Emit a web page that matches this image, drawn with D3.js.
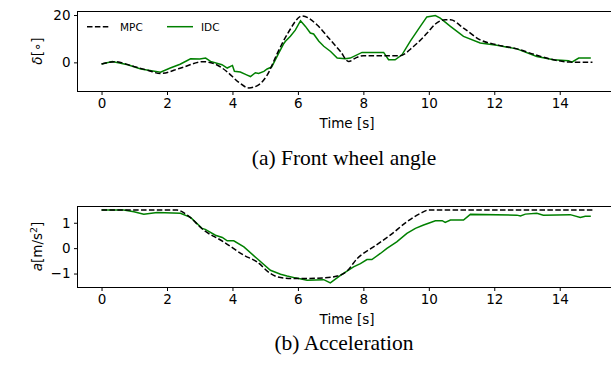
<!DOCTYPE html>
<meta charset="utf-8">
<title>MPC vs IDC</title>
<style>
body { margin:0; background:#fff; }
.tick text { font-family:"DejaVu Sans", sans-serif; font-size:13.5px; fill:#000; }
.tick line { stroke:#000; stroke-width:1; }
.lbl { font-family:"DejaVu Sans", sans-serif; font-size:13.5px; }
.cap { font-family:"Liberation Serif", "Times New Roman", serif; font-size:21.5px; }
.leg { font-family:"DejaVu Sans", sans-serif; font-size:10.5px; }
</style>
<body>
<div id="chart"></div>
<script src="https://cdnjs.cloudflare.com/ajax/libs/d3/7.8.5/d3.min.js"></script>
<script>
// front wheel angle [deg]
var deltaMpcT = [0, 0.4, 1.0, 1.4, 1.8, 2.4, 3.1, 3.53, 3.84, 4.2, 4.5, 4.8, 5.06, 5.37, 5.7, 6.13, 6.58, 6.94, 7.3, 7.55, 7.8, 8.0, 9.1, 9.54, 9.95, 10.2, 10.5, 10.66, 11.06, 11.57, 12.08, 12.69, 13.3, 13.81, 14.32, 15.0];
var deltaMpc  = [-0.7, 0.3, -1.8, -3.3, -4.7, -2.5, 0.3, -1.1, -4.0, -8.5, -10.8, -9.5, -5.4, 3.8, 12.5, 19.6, 15.9, 10.3, 4.6, 0.4, 2.1, 2.8, 2.8, 6.8, 12.4, 16.2, 18.0, 18.0, 14.5, 9.5, 7.4, 5.7, 3.0, 1.1, 0.1, 0];
var deltaIdcT = [0, 0.33, 0.8, 1.2, 1.8, 2.1, 2.4, 2.72, 3.0, 3.18, 3.33, 3.68, 3.84, 4.0, 4.06, 4.24, 4.45, 4.55, 4.7, 4.8, 4.96, 5.06, 5.2, 5.41, 5.57, 5.62, 5.77, 5.92, 6.08, 6.23, 6.38, 6.48, 6.64, 6.79, 7.0, 7.2, 7.45, 7.6, 7.96, 8.62, 8.77, 8.97, 9.18, 9.43, 9.74, 9.94, 10.2, 10.35, 10.66, 11.06, 11.57, 12.08, 12.69, 13.3, 13.81, 14.27, 14.37, 14.58, 14.95];
var deltaIdc  = [-0.7, 0.4, -1.0, -2.8, -4.2, -2.4, -0.8, 1.5, 1.4, 1.8, 0.4, -1.0, -2.4, -1.3, -3.8, -4.1, -5.4, -6.0, -4.4, -4.7, -3.8, -2.8, -1.9, 3.8, 8.0, 8.9, 11.0, 13.6, 17.6, 15.2, 12.4, 12.0, 8.9, 6.8, 4.6, 1.8, 1.5, 1.8, 4.2, 4.2, 1.1, 1.1, 3.2, 8.9, 15.2, 19.2, 19.8, 18.7, 15.2, 11.0, 8.2, 7.2, 5.7, 2.5, 1.1, 0.7, 0.1, 1.8, 1.8];

// acceleration [m/s^2]
var accMpcT = [0, 2.31, 2.62, 3.12, 3.73, 4.35, 4.75, 5.16, 5.47, 5.97, 6.79, 7.2, 7.5, 7.81, 8.31, 8.82, 9.33, 9.74, 9.99, 15.0];
var accMpc  = [1.5, 1.5, 1.3, 0.71, 0.25, -0.28, -0.54, -1.0, -1.16, -1.2, -1.17, -1.1, -0.9, -0.41, 0.05, 0.51, 1.04, 1.37, 1.5, 1.5];
var accIdcT = [0, 0.68, 0.99, 1.29, 1.7, 2.41, 2.72, 3.07, 3.17, 3.48, 3.69, 3.84, 4.04, 4.35, 4.75, 5.16, 5.47, 5.67, 5.92, 6.28, 6.79, 6.99, 7.3, 7.7, 7.91, 8.11, 8.26, 8.52, 8.72, 9.02, 9.33, 9.59, 9.84, 9.99, 10.2, 10.41, 10.5, 10.66, 11.06, 11.27, 12.69, 12.8, 12.95, 13.3, 13.5, 14.32, 14.63, 14.78, 14.95];
var accIdc  = [1.5, 1.5, 1.43, 1.34, 1.4, 1.37, 1.21, 0.78, 0.74, 0.51, 0.42, 0.29, 0.29, 0.05, -0.41, -0.87, -1.03, -1.1, -1.17, -1.26, -1.24, -1.37, -1.07, -0.74, -0.61, -0.45, -0.45, -0.21, -0.01, 0.25, 0.58, 0.78, 0.91, 0.98, 1.08, 1.08, 1.01, 1.11, 1.11, 1.33, 1.30, 1.27, 1.34, 1.37, 1.30, 1.32, 1.21, 1.26, 1.26];

var xTicks = [0, 2, 4, 6, 8, 10, 12, 14];
var deltaTicks = [0, 20];
var accTicks = [-1, 0, 1];
var legendNames = ["MPC", "IDC"];

var W = 611, H = 367;
var svg = d3.select("#chart").append("svg").attr("width", W).attr("height", H);

var x = d3.scaleLinear().domain([-0.75, 15.75]).range([77, 617]);

function zip(t, v){ return t.map(function(d,i){ return [d, v[i]]; }); }

function panel(top, bottom, ydom, yticks, mpc, idc, ylab, capY, capText) {
  var y = d3.scaleLinear().domain(ydom).range([bottom, top]);
  var g = svg.append("g");

  var line = d3.line().x(function(d){ return x(d[0]); }).y(function(d){ return y(d[1]); });

  g.append("path").datum(idc)
    .attr("fill","none").attr("stroke","#008000").attr("stroke-width",1.5)
    .attr("d", line);
  g.append("path").datum(mpc)
    .attr("fill","none").attr("stroke","#000").attr("stroke-width",1.5)
    .attr("stroke-dasharray","5.5,2.4")
    .attr("d", line.curve(d3.curveMonotoneX));

  // spines (crisp, like the png)
  g.append("line").attr("x1",77).attr("x2",W).attr("y1",top+0.5).attr("y2",top+0.5)
    .attr("stroke","#000").attr("stroke-width",1);
  var xa = g.append("g").attr("transform","translate(0,"+(bottom+0.5)+")")
    .call(d3.axisBottom(x).tickValues(xTicks).tickSize(3.5).tickPadding(3.5));
  xa.select(".domain").attr("d","M77,0H"+W);
  var ya = g.append("g").attr("transform","translate(77.5,0)")
    .call(d3.axisLeft(y).tickValues(yticks).tickSize(3.5).tickPadding(3.5)
      .tickFormat(function(d){ return d < 0 ? "\u2212" + Math.abs(d) : d; }));
  ya.select(".domain").attr("d","M0,"+top+"V"+(bottom+0.5));
  svg.selectAll(".domain").attr("stroke","#000").attr("stroke-width",1);

  g.append("text").attr("class","lbl").attr("x", x(7.5)).attr("y", bottom+37)
    .attr("text-anchor","middle").text("Time [s]");

  var yl = g.append("text").attr("class","lbl")
    .attr("transform","translate(42,"+((top+bottom)/2)+") rotate(-90)")
    .attr("text-anchor","middle");
  ylab(yl);

  g.append("text").attr("class","cap").attr("x", 344).attr("y", capY)
    .attr("text-anchor","middle").text(capText);
  return g;
}

var g1 = panel(11, 91, [-12.1, 21.7], deltaTicks, zip(deltaMpcT, deltaMpc), zip(deltaIdcT, deltaIdc),
  function(t){
    t.append("tspan").attr("font-style","italic").text("\u03b4");
    t.append("tspan").text("[\u2218]");
  }, 165, "(a) Front wheel angle");

var g2 = panel(206, 287, [-1.53, 1.66], accTicks, zip(accMpcT, accMpc), zip(accIdcT, accIdc),
  function(t){
    t.append("tspan").attr("font-style","italic").text("a");
    t.append("tspan").text("[m/s");
    t.append("tspan").attr("font-size","9.5px").attr("dy",-5).text("2");
    t.append("tspan").attr("dy",5).text("]");
  }, 350, "(b) Acceleration");

// legend
var leg = g1.append("g");
leg.append("line").attr("x1",87).attr("x2",110).attr("y1",26.7).attr("y2",26.7)
  .attr("stroke","#000").attr("stroke-width",1.5).attr("stroke-dasharray","5.5,2.4");
leg.append("text").attr("class","leg").attr("x",120).attr("y",30.5).text(legendNames[0]);
leg.append("line").attr("x1",167).attr("x2",193).attr("y1",26.7).attr("y2",26.7)
  .attr("stroke","#008000").attr("stroke-width",1.5);
leg.append("text").attr("class","leg").attr("x",201).attr("y",30.5).text(legendNames[1]);
</script>
</body>
